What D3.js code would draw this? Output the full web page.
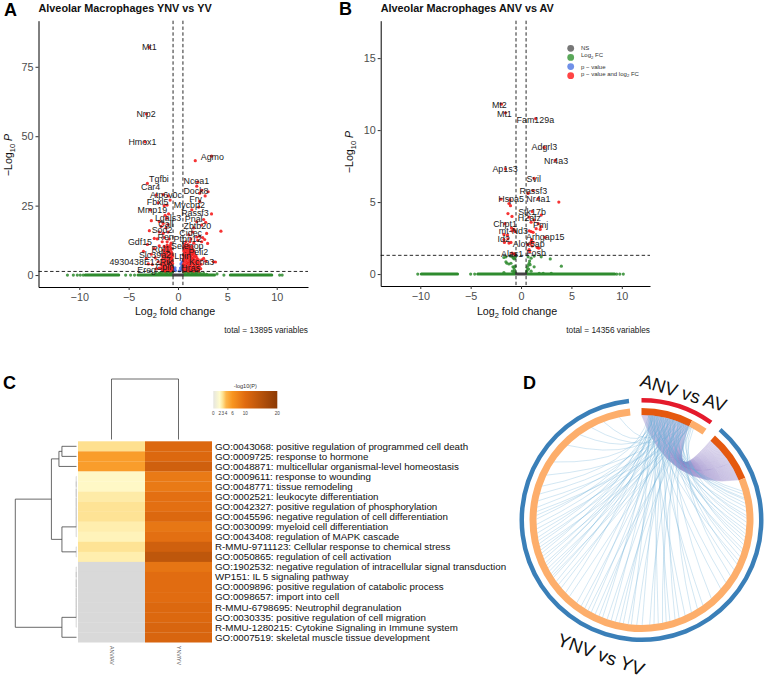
<!DOCTYPE html>
<html>
<head>
<meta charset="utf-8">
<script src="https://d3js.org/d3.v7.min.js"></script>
<style>
html, body { margin: 0; padding: 0; background: #fff; }
svg { display: block; font-family: "Liberation Sans", Arial, sans-serif; }
</style>
</head>
<body>
<svg id="chart" width="768" height="693"></svg>
<script>

// panel A, volcano YNV vs YV
var labelsA = [['Mt1',-2.9,82.2],['Nrp2',-3.24,58.1],['Hmox1',-3.6,48],['Agmo',3.48,42.7],['Tgfbi',-1.93,34.7],['Ncea1',1.86,33.8],['Car4',-2.77,31.6],['Dock8',1.82,30.4],['Atp6v0c',-1.22,28.9],['Fry',1.79,27.4],['Fbxl5',-2.06,26.2],['Mycbp2',1.15,25.2],['Mmp19',-2.6,23.3],['Rassf3',1.72,22.4],['Lgals3',-1.01,20.6],['Pnal',1.59,20.4],['Call',-1.22,18.4],['Zbtb20',1.96,17.8],['Sod2',-1.62,16.2],['Cidec',1.29,15.2],['Ren',-1.25,13.8],['Ptpn12',0.98,13],['Gdf15',-3.85,11.8],['Selenop',0.94,10.6],['Rgl1',-1.75,9.6],['Peli2',2.06,8.5],['Slc39a2',-2.33,7.2],['Lpin',0.48,6.8],['Kcna3',2.4,4.8],['4930438E12Rik',-3.75,4.8],['Cpln',-1.32,2.8],['Hras',1.29,2.6],['Ereg',-3.17,1.7]];
var redA = [[-2.9,82],[-3.2,58],[-3.35,48],[1.75,41.2],[3.4,42.8],[2,33.5],[1.9,32],[2.4,30.5],[3.05,30],[2.2,29.5],[2.75,28.5],[2.2,26.5],[3.4,22],[2.1,24.5],[1.4,23.5],[2.6,20],[2.8,19],[1.9,19.2],[2.4,18],[1.6,17],[4.35,15.8],[2.9,15],[1.5,15.5],[1.1,14.5],[2.2,14],[1.9,13.7],[2.5,13.5],[2.7,12.8],[1.3,13],[2,12.5],[2.4,12],[3,11.4],[1.2,12],[1.6,11.5],[3.8,4.7],[3.6,4.8],[2.6,6],[2.8,5],[2.4,5.5],
[-3.1,33],[-2.2,28.8],[-1.5,29],[-1,28.5],[-0.8,27],[-2,26],[-1.4,25],[-1.1,25.2],[-2.8,23.5],[-0.95,22],[-1.3,21.5],[-1.15,20.5],[-2.7,19.6],[-1.9,19.3],[-1.5,18.6],[-1,18.2],[-1.7,17.5],[-1.2,17],[-2.9,16],[-1.9,15.5],[-1.5,15],[-1,15.5],[-2.4,13.2],[-2.1,13],[-1.4,13.5],[-0.9,13],[-1.6,12],[-1.1,12],[-0.7,11.5],[-3.1,11],[-1.9,10.5],[-1.4,10.3],[-3.5,8.5],[-2.4,9.5],[-2.7,7.5],[-2.3,6.2],[-3.2,6],[-3,4],[-2.6,3.8],[-2,4.8],[-2.2,2.2],[-1.9,2.5],
// left blob
[-1.55,1.6],[-1.3,1.5],[-1.05,1.6],[-0.8,1.5],[-0.58,1.7],[-1.7,2.3],[-1.45,2.4],[-1.2,2.2],[-0.95,2.4],[-0.7,2.3],[-0.55,2.6],[-1.62,3.1],[-1.38,3.2],[-1.12,3],[-0.88,3.2],[-0.62,3.1],[-1.75,3.9],[-1.5,4],[-1.25,3.8],[-1,4.1],[-0.75,3.9],[-0.55,4.2],[-1.55,4.8],[-1.3,4.7],[-1.05,4.9],[-0.8,4.7],[-0.6,5],[-1.6,5.6],[-1.35,5.7],[-1.1,5.5],[-0.85,5.7],[-0.62,5.8],[-1.5,6.5],[-1.25,6.4],[-1,6.6],[-0.75,6.4],[-0.56,6.7],[-1.6,7.3],[-1.3,7.4],[-1.05,7.2],[-0.8,7.4],[-0.6,7.5],[-1.4,8.2],[-1.15,8.1],[-0.9,8.3],[-0.65,8.2],[-1.5,9],[-1.2,9.1],[-0.95,8.9],[-0.7,9.2],[-1.25,9.9],[-1,10],[-0.75,9.8],[-1.1,10.8],[-0.8,10.6],
// right blob
[0.6,1.5],[0.85,1.6],[1.1,1.5],[1.35,1.6],[1.6,1.5],[1.85,1.6],[2.1,1.5],[0.55,2.3],[0.8,2.2],[1.05,2.4],[1.3,2.2],[1.55,2.4],[1.8,2.2],[2.05,2.4],[2.3,2.3],[0.65,3.1],[0.9,3],[1.15,3.2],[1.4,3],[1.65,3.2],[1.9,3],[2.15,3.2],[0.55,3.9],[0.8,3.8],[1.05,4],[1.3,3.8],[1.55,4],[1.8,3.8],[2.05,4],[2.35,3.9],[0.62,4.7],[0.88,4.6],[1.12,4.8],[1.38,4.6],[1.62,4.8],[1.88,4.6],[2.12,4.8],[0.55,5.5],[0.8,5.4],[1.05,5.6],[1.3,5.4],[1.55,5.6],[1.8,5.4],[2.05,5.6],[0.62,6.3],[0.88,6.2],[1.12,6.4],[1.38,6.2],[1.62,6.4],[1.9,6.3],[0.55,7.1],[0.8,7],[1.05,7.2],[1.3,7],[1.55,7.2],[1.8,7],[0.65,7.9],[0.9,7.8],[1.15,8],[1.4,7.8],[1.65,8],[0.58,8.7],[0.85,8.6],[1.1,8.8],[1.35,8.6],[1.6,8.8],[0.65,9.5],[0.9,9.4],[1.15,9.6],[1.45,9.4],[0.6,10.3],[0.85,10.2],[1.1,10.4],[1.4,10.3],[0.7,11.1],[1,11],[0.8,12]];
var greenA = [[-11.2,0],[-10.6,0],[-10.2,0],[-9.9,0],[-9.6,0],[-5.3,0],[-4.8,0],[-4.4,0],[4.65,0],[10.3,0],[10.55,0],[3.95,0.4],
[-2.6,0.3],[-2.2,0.5],[-1.9,0.7],[-1.7,1],[-1.5,0.6],[-1.3,1.1],[-1.1,0.8],[-0.9,1.1],[-0.7,0.7],[-0.55,1.1],[-1.8,0.4],[-1.2,0.4],[-0.8,0.4],[0.55,1.1],[0.7,0.7],[0.9,1.1],[1.1,0.8],[1.3,1.1],[1.5,0.6],[1.7,1],[1.9,0.7],[2.1,1],[2.3,0.5],[2.6,0.6],[2.9,0.3],[1,0.4],[1.4,0.4],[1.8,0.3]];
var greenRunsA = [[-9.4,-6],[-4.05,-0.6],[0.6,3.7],[5.3,9.5]];
var blueA = [[0.35,1.8],[0.25,2.5],[0.4,3.2],[0.3,4],[0.42,4.8],[-0.25,1.6],[-0.4,2],[-0.3,2.6],[0.15,1.5],[0.45,2.4]];
var greyRunsA = [[-0.45,0.45]];

// panel B, volcano ANV vs AV
var labelsB = [['Mt2',-2.15,11.74],['Mt1',-1.65,11.15],['Fam129a',1.42,10.7],['Adgrl3',2.32,8.82],['Nr4a3',3.48,7.85],['Ap1s3',-1.59,7.29],['Svil',1.26,6.64],['Rassf3',1.22,5.76],['Nr4a1',1.72,5.25],['Hspa5',-0.99,5.21],['Stk17b',1.09,4.33],['H2afz',0.83,3.91],['Chpt1',-1.59,3.47],['Pmj',1.95,3.45],['mt-Nd3',-0.76,3.03],['Arhgap15',2.41,2.55],['Id2',-1.72,2.43],['Alox5ap',0.76,2.08],['Fosb',1.49,1.46],['Alas1',-0.89,1.41]];
var redB = [[-1.95,11.8],[-1.55,11.2],[1.45,10.8],[2.3,8.8],[3.4,7.9],[-1.55,7.3],[1.3,6.65],[1.2,5.8],[0.7,5.6],[-2,5.2],[-1.1,5.15],[-1.2,4.9],[-1.05,4.75],[1.7,5.25],[3.75,5],[-1.3,4.2],[-0.9,4],[1.1,4.35],[2,4.1],[0.8,3.95],[1.3,3.75],[1,3.6],[1.7,3.5],[2,3.3],[1.5,3.15],[1.9,3.1],[-1.6,3.5],[-0.95,3.2],[-0.7,3.1],[-0.6,2.95],[-0.9,3],[0.8,3],[1,2.95],[1.2,2.9],[-1.7,2.75],[-1.35,2.7],[-1.3,2.45],[-1.7,2.4],[-1.65,2.2],[-1.2,2.15],[-1,2.2],[2.4,2.55],[1.05,2.4],[1,2.25],[0.9,2.1],[1.2,2.2],[0.65,2.05],[1.1,1.95],[1.6,1.85],[1.75,1.8],[0.8,1.7],[0.85,1.55],[-0.7,1.4],[-0.6,1.35],[-0.9,1.45]];
var greenB = [[-10.25,0],[-5,0],[-4.6,0],[9.5,0],[9.8,0],[10.15,0],[-1.5,1.2],[-1.7,1.15],[-1.05,1.25],[-0.85,1.2],[-0.75,1.1],[-0.65,1.05],[-0.55,1.2],[-1.4,0.75],[-1.5,0.85],[-1.2,0.7],[-1,0.75],[-0.8,0.5],[-0.7,0.45],[-0.6,0.55],[-0.65,0.3],[-0.85,0.2],[-0.55,0.1],[-1.7,0.1],[-0.7,0.15],[0.7,1.2],[1,1.1],[1.3,1.25],[2,1.2],[2.9,1.05],[0.85,0.9],[0.8,0.75],[0.9,0.65],[0.7,0.6],[0.6,0.45],[1.3,0.5],[0.75,0.35],[0.6,0.25],[1,0.2],[0.55,0.15],[4,0.55],[1.8,0.05],[2.2,0.05],[3,0.05]];
var greenRunsB = [[-9.9,-6.3],[-4.3,-0.6],[0.6,9.3]];
var blueB = [];
var greyRunsB = [[-0.45,0.45]];

var legendNames = ['NS', 'Log2 FC', 'p \u2212 value', 'p \u2212 value and log2 FC'];

// panel C, enrichment heatmap
var terms = ['GO:0043068: positive regulation of programmed cell death','GO:0009725: response to hormone','GO:0048871: multicellular organismal-level homeostasis','GO:0009611: response to wounding','GO:0048771: tissue remodeling','GO:0002521: leukocyte differentiation','GO:0042327: positive regulation of phosphorylation','GO:0045596: negative regulation of cell differentiation','GO:0030099: myeloid cell differentiation','GO:0043408: regulation of MAPK cascade','R-MMU-9711123: Cellular response to chemical stress','GO:0050865: regulation of cell activation','GO:1902532: negative regulation of intracellular signal transduction','WP151: IL 5 signaling pathway','GO:0009896: positive regulation of catabolic process','GO:0098657: import into cell','R-MMU-6798695: Neutrophil degranulation','GO:0030335: positive regulation of cell migration','R-MMU-1280215: Cytokine Signaling in Immune system','GO:0007519: skeletal muscle tissue development'];
var columns = ['ANV/AV', 'YNV/YV'];
var anvValues = [3, 5.5, 5.5, 2.1, 2.1, 2.6, 2.9, 2.9, 2.5, 2.3, 2.9, 2.5, null, null, null, null, null, null, null, null];
var ynvValues = [10.5, 10.5, 12, 8.5, 8.5, 9.5, 9.5, 10.5, 8.8, 9.5, 12, 14, 9, 9.8, 9.8, 9.8, 10.5, 10.5, 11, 11];
var legendTicks = [0, 2, 3, 4, 6, 10, 20];
var legendColors = ['#e6e6e0', '#fffbcc', '#fee08f', '#fdb64a', '#f89520', '#e06a10', '#8c3a05'];
// merges as [height, child, child], a number is a row
var comb3 = [0.005, [0.005, [0.005, [0.005, [0.005, [0.005, 3, 4], 5], 6], 7], 8], 9];
var comb12 = [0.005, [0.005, [0.005, [0.005, [0.005, [0.005, 12, 13], 14], 15], 16], 17], 18];
var rowTree = [1, [0.41, [0.287, [0.238, 0, 1], 2], [0.238, comb3, [0.005, 10, 11]]], [0.238, comb12, 19]];

// panel D, circos of the two gene lists
var anvGenes = 120;
var ynvGenes = 1061;
var sharedGenes = 91;
var blueLinks = [[18,112],[30,118],[45,125],[62,128],[75,135],[88,142],[22,150],[52,158],[96,163],[35,170],[68,178],[12,185],[80,192],[40,198],[58,205],[92,212],[26,220],[48,226],[72,235],[15,243],[85,250],[60,262],[100,275],[38,290],[20,305],
[70,330],[28,350],[55,362],[90,375],[16,388],[44,400],[78,408],[33,418],[64,425],[95,432],[24,440],[50,448],[84,456],[37,470],[66,480],[14,490],[76,496],[42,505],[58,512],[88,520],[30,528],[72,536],[20,545],[52,552],[82,560],[46,568],[90,575],[26,582],[60,590],[36,600],
[74,618],[18,628],[54,640],[86,648],[32,655],[66,664],[92,668],[22,672],[48,678],[78,684],[28,690],[62,695],[40,702],[84,708],[16,714],[56,720],[94,726],[34,732],[70,738],[24,744],[50,752],[80,760],[42,768],[20,778],[60,785],[90,792],[30,800],[72,812],[46,825],[14,840],
[68,862],[25,890],[58,930],[38,960],[82,985],[20,1010],[50,1040]];

var svg = d3.select('#chart');
var RED = '#f51010', GREEN = '#2e8b2e', BLUE = '#4169e1', GREY = '#444';

function letter(t, x, y) {
	svg.append('text').attr('x', x).attr('y', y).attr('font-size', 18).attr('font-weight', 'bold').attr('fill', '#000').text(t);
}

function sub(el, parts, size) {
	// parts: plain text, or {s:'2'} for subscript, {i:'P'} for italic
	var back = 0;
	parts.forEach(function(p) {
		var ts = el.append('tspan');
		if (p.s) {
			ts.text(p.s).attr('font-size', size * 0.7).attr('dy', size * 0.25);
			back = -size * 0.25;
		} else {
			if (p.i) ts.attr('font-style', 'italic');
			ts.text(p.i || p).attr('dy', back);
			back = 0;
		}
	});
}

function volcano(o) {
	var x = d3.scaleLinear().domain(o.xd).range(o.xr);
	var y = d3.scaleLinear().domain(o.yd).range(o.yr);
	var g = svg.append('g');

	function dots(data, color) {
		g.append('g').selectAll('circle').data(data).join('circle')
			.attr('cx', function(d) { return x(d[0]); })
			.attr('cy', function(d) { return y(d[1]); })
			.attr('r', 1.6)
			.attr('fill', color)
			.attr('fill-opacity', 0.85);
	}

	function runs(data, color) {
		g.append('g').selectAll('line').data(data).join('line')
			.attr('x1', function(d) { return x(d[0]); })
			.attr('x2', function(d) { return x(d[1]); })
			.attr('y1', y(0))
			.attr('y2', y(0))
			.attr('stroke', color)
			.attr('stroke-width', 3)
			.attr('stroke-linecap', 'round');
	}

	runs(o.greenRuns, GREEN);
	dots(o.green, GREEN);
	runs(o.greyRuns, GREY);
	dots(o.blue, BLUE);
	dots(o.red, RED);

	[-0.5, 0.5].forEach(function(v) {
		g.append('line').attr('x1', x(v)).attr('x2', x(v)).attr('y1', o.yr[1]).attr('y2', o.yr[0])
			.attr('stroke', '#111').attr('stroke-width', 0.9).attr('stroke-dasharray', '3.4,2.4');
	});
	g.append('line').attr('x1', o.xr[0]).attr('x2', o.xr[1]).attr('y1', y(1.3)).attr('y2', y(1.3))
		.attr('stroke', '#111').attr('stroke-width', 0.9).attr('stroke-dasharray', '3.4,2.4');

	g.append('g').selectAll('text').data(o.labels).join('text')
		.attr('x', function(d) { return x(d[1]); })
		.attr('y', function(d) { return y(d[2]); })
		.attr('dy', '0.35em')
		.attr('text-anchor', 'middle')
		.attr('font-size', 8.9)
		.attr('fill', '#1a1a1a')
		.text(function(d) { return d[0]; });

	var ax = g.append('g').attr('transform', 'translate(0,' + o.yr[0] + ')')
		.call(d3.axisBottom(x).tickValues([-10, -5, 0, 5, 10]).tickSize(3).tickSizeOuter(0).tickPadding(3));
	var ay = g.append('g').attr('transform', 'translate(' + o.xr[0] + ',0)')
		.call(d3.axisLeft(y).tickValues(o.yTicks).tickSize(3).tickSizeOuter(0).tickPadding(2));
	[ax, ay].forEach(function(a) {
		a.selectAll('text').attr('font-size', 10.8).attr('fill', '#4d4d4d').attr('font-family', 'inherit');
		a.select('.domain').attr('stroke', '#000').attr('stroke-width', 1);
		a.selectAll('.tick line').attr('stroke', '#333');
	});

	g.append('text').attr('x', o.xr[0]).attr('y', 11.5).attr('font-size', 10.85).attr('font-weight', 'bold').attr('fill', '#111').text(o.title);

	var tx = g.append('text').attr('x', o.xLabelX).attr('y', 315).attr('text-anchor', 'middle').attr('font-size', 10.7).attr('fill', '#111');
	sub(tx, ['Log', {s: '2'}, ' fold change'], 10.7);

	var ty = g.append('text').attr('transform', 'translate(' + o.yLabelX + ',' + o.yLabelY + ') rotate(-90)')
		.attr('text-anchor', 'middle').attr('font-size', 10.7).attr('fill', '#111');
	sub(ty, ['\u2212Log', {s: '10'}, ' ', {i: 'P'}], 10.7);

	g.append('text').attr('x', o.xr[1]).attr('y', 333).attr('text-anchor', 'end').attr('font-size', 8.3).attr('fill', '#222').text(o.caption);
}

volcano({
	xd: [-14.13, 13.17], xr: [38.5, 308], yd: [-4.3, 91.6], yr: [287, 20.7],
	yTicks: [0, 25, 50, 75], labels: labelsA, red: redA, green: greenA, greenRuns: greenRunsA, blue: blueA, greyRuns: greyRunsA,
	title: 'Alveolar Macrophages YNV vs YV', caption: 'total = 13895 variables', xLabelX: 175, yLabelX: 12, yLabelY: 155
});
volcano({
	xd: [-13.93, 12.8], xr: [380.7, 650], yd: [-0.83, 17.6], yr: [286, 20.7],
	yTicks: [0, 5, 10, 15], labels: labelsB, red: redB, green: greenB, greenRuns: greenRunsB, blue: blueB, greyRuns: greyRunsB,
	title: 'Alveolar Macrophages ANV vs AV', caption: 'total = 14356 variables', xLabelX: 517, yLabelX: 353, yLabelY: 152
});

// legend of panel B
var legY = d3.scalePoint().domain(legendNames).range([48.3, 75.7]);
var legColors = ['#777', '#5aa85a', '#7090e8', '#f44'];
legendNames.forEach(function(n, i) {
	svg.append('circle').attr('cx', 570.7).attr('cy', legY(n)).attr('r', 3.4).attr('fill', legColors[i]);
	var t = svg.append('text').attr('x', 581).attr('y', legY(n)).attr('dy', '0.35em').attr('font-size', 6).attr('fill', '#333');
	if (n.indexOf('log2') >= 0) sub(t, ['p \u2212 value and log', {s: '2'}, ' FC'], 6);
	else if (n.indexOf('Log2') >= 0) sub(t, ['Log', {s: '2'}, ' FC'], 6);
	else t.text(n);
});

// heatmap
var color = d3.scaleLinear().domain(legendTicks).range(legendColors);
var rowY = d3.scaleBand().domain(d3.range(terms.length)).range([441.3, 642.3]);
var colX = d3.scaleBand().domain(columns).range([78, 212]);
[anvValues, ynvValues].forEach(function(vals, c) {
	svg.append('g').selectAll('rect').data(vals).join('rect')
		.attr('x', colX(columns[c]))
		.attr('y', function(d, i) { return rowY(i); })
		.attr('width', colX.bandwidth())
		.attr('height', rowY.bandwidth() + 0.2)
		.attr('fill', function(d) { return d === null ? '#d9d9d9' : color(d); });
});
svg.append('g').selectAll('text').data(terms).join('text')
	.attr('x', 215)
	.attr('y', function(d, i) { return rowY(i) + rowY.bandwidth() / 2; })
	.attr('dy', '0.35em')
	.attr('font-size', 9.75)
	.attr('fill', '#111')
	.text(function(d) { return d; });
columns.forEach(function(c) {
	svg.append('text')
		.attr('transform', 'translate(' + (colX(c) + colX.bandwidth() / 2 - 1.5) + ',646) rotate(90)')
		.attr('font-size', 5.2).attr('fill', '#555').text(c);
});

// dendrograms
var heightX = d3.scaleLinear().domain([0, 1]).range([76.5, 15.3]);
function drawNode(n, g) {
	if (typeof n === 'number')
		return { y: rowY(n) + rowY.bandwidth() / 2, x: heightX(0) };
	var a = drawNode(n[1], g);
	var b = drawNode(n[2], g);
	var x = heightX(n[0]);
	var p = d3.path();
	p.moveTo(a.x, a.y);
	p.lineTo(x, a.y);
	p.lineTo(x, b.y);
	p.lineTo(b.x, b.y);
	g.append('path').attr('d', p.toString()).attr('fill', 'none')
		.attr('stroke', n[0] < 0.01 ? '#aaa' : '#444').attr('stroke-width', n[0] < 0.01 ? 0.5 : 0.8);
	return { y: (a.y + b.y) / 2, x: x };
}
drawNode(rowTree, svg.append('g'));

var colHeight = d3.scaleLinear().domain([0, 1]).range([439.5, 379]);
var topLink = d3.path();
topLink.moveTo(colX(columns[0]) + colX.bandwidth() / 2, colHeight(0));
topLink.lineTo(colX(columns[0]) + colX.bandwidth() / 2, colHeight(1));
topLink.lineTo(colX(columns[1]) + colX.bandwidth() / 2, colHeight(1));
topLink.lineTo(colX(columns[1]) + colX.bandwidth() / 2, colHeight(0));
svg.append('path').attr('d', topLink.toString()).attr('fill', 'none').attr('stroke', '#444').attr('stroke-width', 0.8);

// colour key
var keyX = d3.scaleLinear().domain([0, 20]).range([213.3, 277.3]);
var grad = svg.append('defs').append('linearGradient').attr('id', 'key');
legendTicks.forEach(function(v, i) {
	grad.append('stop').attr('offset', (v / 20 * 100) + '%').attr('stop-color', legendColors[i]);
});
svg.append('rect').attr('x', keyX(0)).attr('y', 391).attr('width', keyX(20) - keyX(0)).attr('height', 17.5).attr('fill', 'url(#key)');
svg.append('text').attr('x', keyX(10)).attr('y', 388).attr('text-anchor', 'middle').attr('font-size', 5.6).attr('fill', '#333').text('-log10(P)');
svg.append('g').selectAll('text').data(legendTicks).join('text')
	.attr('x', function(d) { return keyX(d); })
	.attr('y', 415)
	.attr('text-anchor', 'middle')
	.attr('font-size', 4.6)
	.attr('fill', '#444')
	.text(function(d) { return d; });

// circos
var cx = 641.5, cy = 520;
var deg = Math.PI / 180;
var anvAngle = d3.scaleLinear().domain([0, anvGenes]).range([0, 35.5]);
var ynvAngle = d3.scaleLinear().domain([0, ynvGenes]).range([41, 354]);
var circos = svg.append('g').attr('transform', 'translate(' + cx + ',' + cy + ')');
var arc = d3.arc();
function band(a0, a1, r0, r1, fill) {
	circos.append('path').attr('fill', fill).attr('d', arc({ innerRadius: r0, outerRadius: r1, startAngle: a0 * deg, endAngle: a1 * deg }));
}
band(anvAngle(0), anvAngle(anvGenes), 117.5, 122, '#e41a2c');
band(ynvAngle(0), ynvAngle(ynvGenes), 117.5, 122, '#3a7fb8');
band(anvAngle(0), anvAngle(sharedGenes), 105, 112, '#e5590f');
band(anvAngle(sharedGenes), anvAngle(anvGenes), 105, 112, '#fdae6b');
band(ynvAngle(0), ynvAngle(sharedGenes), 105, 112, '#e5590f');
band(ynvAngle(sharedGenes), ynvAngle(ynvGenes), 105, 112, '#fdae6b');

function ringPoint(a) {
	return [105 * Math.sin(a * deg), -105 * Math.cos(a * deg)];
}
// beta pulls the curve from a straight chord towards the bundle point
function chord(a0, a1, bundle, beta, stroke, w, op) {
	var p0 = ringPoint(a0), p1 = ringPoint(a1);
	var mx = (p0[0] + p1[0]) / 2, my = (p0[1] + p1[1]) / 2;
	var p = d3.path();
	p.moveTo(p0[0], p0[1]);
	p.quadraticCurveTo(mx + (bundle[0] - mx) * beta, my + (bundle[1] - my) * beta, p1[0], p1[1]);
	circos.append('path').attr('d', p.toString()).attr('fill', 'none').attr('stroke', stroke).attr('stroke-width', w).attr('stroke-opacity', op);
}
d3.range(sharedGenes).forEach(function(i) {
	chord(anvAngle(i), ynvAngle(sharedGenes - 1 - i), [26.5, -30], 1, '#8e7cc3', 0.6, 0.4);
});
blueLinks.forEach(function(d) {
	chord(anvAngle(d[0]), ynvAngle(d[1]), [12, -45], 0.7, '#6baed6', 0.6, 0.5);
});

svg.append('text').attr('transform', 'translate(639,386) rotate(17)').attr('font-size', 18.5).attr('fill', '#111').text('ANV vs AV');
svg.append('text').attr('transform', 'translate(556,645) rotate(20)').attr('font-size', 18.5).attr('fill', '#111').text('YNV vs YV');

letter('A', 4, 16);
letter('B', 339, 15);
letter('C', 3, 389);
letter('D', 523, 389);

</script>
</body>
</html>
